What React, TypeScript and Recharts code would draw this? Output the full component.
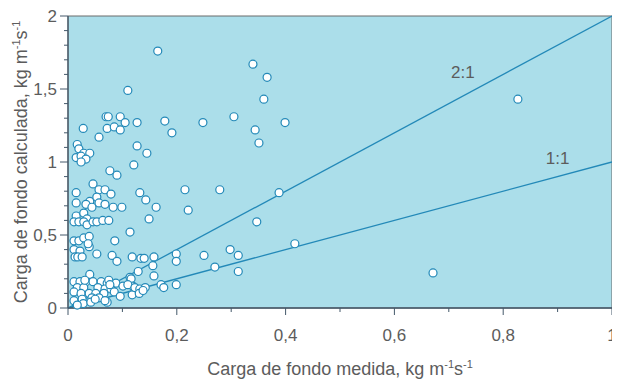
import { ScatterChart, Scatter, XAxis, YAxis, ReferenceArea, ReferenceLine, ReferenceDot } from 'recharts'

// carga de fondo medida (x) y calculada (y), kg m-1 s-1
const medida = [
  0.165, 0.34, 0.366, 0.36, 0.827, 0.11, 0.07, 0.074, 0.096, 0.305,
  0.105, 0.127, 0.178, 0.248, 0.399, 0.028, 0.072, 0.085, 0.096, 0.191,
  0.344, 0.057, 0.351, 0.127, 0.017, 0.02, 0.029, 0.04, 0.145, 0.015,
  0.024, 0.033, 0.024, 0.121, 0.077, 0.09, 0.046, 0.057, 0.068, 0.079,
  0.015, 0.132, 0.215, 0.279, 0.388, 0.015, 0.04, 0.053, 0.057, 0.033,
  0.044, 0.068, 0.083, 0.099, 0.143, 0.162, 0.221, 0.015, 0.029, 0.035,
  0.011, 0.02, 0.029, 0.035, 0.046, 0.053, 0.064, 0.075, 0.149, 0.347,
  0.114, 0.011, 0.02, 0.029, 0.039, 0.086, 0.039, 0.011, 0.022, 0.013,
  0.018, 0.026, 0.053, 0.081, 0.09, 0.118, 0.134, 0.14, 0.158, 0.199,
  0.199, 0.156, 0.25, 0.298, 0.313, 0.27, 0.313, 0.417, 0.671, 0.129,
  0.158, 0.114, 0.04, 0.011, 0.022, 0.033, 0.046, 0.061, 0.072, 0.088,
  0.101, 0.116, 0.119, 0.017, 0.029, 0.055, 0.068, 0.079, 0.011, 0.024,
  0.039, 0.051, 0.066, 0.085, 0.096, 0.118, 0.011, 0.026, 0.044, 0.057,
  0.072, 0.028, 0.017, 0.042, 0.031, 0.075, 0.11, 0.123, 0.132, 0.142,
  0.171, 0.176, 0.199, 0.131, 0.138, 0.05, 0.068, 0.077, 0.037,
]
const calculada = [
  1.76, 1.67, 1.58, 1.43, 1.43, 1.49, 1.31, 1.31, 1.31, 1.31,
  1.27, 1.27, 1.28, 1.27, 1.27, 1.23, 1.23, 1.24, 1.22, 1.2,
  1.22, 1.17, 1.13, 1.11, 1.12, 1.09, 1.06, 1.06, 1.06, 1.03,
  1.04, 1.02, 1.0, 0.98, 0.94, 0.91, 0.85, 0.81, 0.81, 0.78,
  0.79, 0.79, 0.81, 0.81, 0.79, 0.72, 0.73, 0.76, 0.72, 0.71,
  0.69, 0.71, 0.69, 0.69, 0.74, 0.69, 0.67, 0.63, 0.65, 0.61,
  0.59, 0.59, 0.59, 0.57, 0.59, 0.59, 0.6, 0.6, 0.61, 0.59,
  0.52, 0.46, 0.46, 0.48, 0.49, 0.46, 0.42, 0.4, 0.39, 0.35,
  0.35, 0.35, 0.37, 0.36, 0.32, 0.35, 0.34, 0.34, 0.35, 0.37,
  0.32, 0.29, 0.36, 0.4, 0.36, 0.28, 0.25, 0.44, 0.24, 0.25,
  0.22, 0.21, 0.23, 0.18, 0.18, 0.18, 0.18, 0.18, 0.17, 0.17,
  0.15, 0.2, 0.15, 0.14, 0.14, 0.14, 0.13, 0.13, 0.11, 0.1,
  0.1, 0.1, 0.1, 0.11, 0.08, 0.09, 0.05, 0.06, 0.07, 0.07,
  0.04, 0.03, 0.02, 0.04, 0.19, 0.19, 0.16, 0.14, 0.13, 0.14,
  0.16, 0.14, 0.16, 0.1, 0.12, 0.06, 0.05, 0.16, 0.44,
]
const puntos = medida.map((x, i) => ({ x, y: calculada[i] }))

const xTicks = [0, 0.1, 0.2, 0.3, 0.4, 0.5, 0.6, 0.7, 0.8, 0.9, 1]
const xMajor = [0, 0.2, 0.4, 0.6, 0.8, 1]
const yTicks = [0, 0.1, 0.2, 0.3, 0.4, 0.5, 0.6, 0.7, 0.8, 0.9, 1, 1.1, 1.2, 1.3, 1.4, 1.5, 1.6, 1.7, 1.8, 1.9, 2]
const yMajor = [0, 0.5, 1, 1.5, 2]

const linea1a1 = [{ x: 0, y: 0 }, { x: 1, y: 1 }]
const linea2a1 = [{ x: 0, y: 0 }, { x: 1, y: 2 }]
const etiquetas = [
  { x: 0.726, y: 1.62, texto: '2:1' },
  { x: 0.9, y: 1.03, texto: '1:1' },
]

const fondo = '#abdeea'
const azul = '#2389b8'
const eje = '#44596a'
const gris = '#5c5c5c'
const fuente = '"Liberation Sans", Arial, sans-serif'

const esMayor = (v: number, lista: number[]) => lista.some((m) => Math.abs(m - v) < 1e-6)
const fmt = (v: number) => String(v).replace('.', ',')

function XTick(props: any) {
  const { x, y, payload } = props
  const mayor = esMayor(payload.value, xMajor)
  return (
    <g>
      <line x1={x} x2={x} y1={y} y2={y + (mayor ? 7 : 4)} stroke={eje} />
      {mayor && (
        <text x={x} y={y + 27} dy="0.35em" textAnchor="middle" fill={gris} fontSize={17} fontFamily={fuente}>
          {fmt(payload.value)}
        </text>
      )}
    </g>
  )
}

function YTick(props: any) {
  const { x, y, payload } = props
  const mayor = esMayor(payload.value, yMajor)
  return (
    <g>
      <line x1={x - (mayor ? 8 : 4)} x2={x} y1={y} y2={y} stroke={eje} />
      {mayor && (
        <text x={x - 11} y={y} dy="0.35em" textAnchor="end" fill={gris} fontSize={17} fontFamily={fuente}>
          {fmt(payload.value)}
        </text>
      )}
    </g>
  )
}

function XTitle(props: any) {
  const { viewBox } = props
  const cx = viewBox.x + viewBox.width / 2
  return (
    <text x={cx} y={viewBox.y + 67} textAnchor="middle" fill={gris} fontSize={18} fontFamily={fuente}>
      Carga de fondo medida, kg m
      <tspan dy={-7} fontSize={11}>-1</tspan>
      <tspan dy={7}>s</tspan>
      <tspan dy={-7} fontSize={11}>-1</tspan>
    </text>
  )
}

function YTitle(props: any) {
  const { viewBox } = props
  const cy = viewBox.y + viewBox.height / 2
  const cx = 13
  return (
    <text
      x={cx}
      y={cy}
      transform={`rotate(-90 ${cx} ${cy})`}
      dy="0.35em"
      textAnchor="middle"
      fill={gris}
      fontSize={18}
      fontFamily={fuente}
    >
      Carga de fondo calculada, kg m
      <tspan dy={-7} fontSize={11}>-1</tspan>
      <tspan dy={7}>s</tspan>
      <tspan dy={-7} fontSize={11}>-1</tspan>
    </text>
  )
}

const Punto = (props: any) => (
  <circle cx={props.cx} cy={props.cy} r={4} fill="#ffffff" stroke={azul} strokeWidth={1.2} />
)

export default function App() {
  return (
    <ScatterChart width={612} height={372} margin={{ top: 8, right: 8, left: 0, bottom: 0 }}>
      <ReferenceArea x1={0} x2={1} y1={0} y2={2} fill={fondo} fillOpacity={1} stroke="#6b6b6b" strokeWidth={1} />
      <XAxis
        type="number"
        dataKey="x"
        domain={[0, 1]}
        ticks={xTicks}
        interval={0}
        height={72}
        tickSize={0}
        tickMargin={0}
        tickLine={false}
        tick={<XTick />}
        axisLine={{ stroke: eje, strokeWidth: 1.3 }}
        label={<XTitle />}
      />
      <YAxis
        type="number"
        dataKey="y"
        domain={[0, 2]}
        ticks={yTicks}
        interval={0}
        width={60}
        tickSize={0}
        tickMargin={0}
        tickLine={false}
        tick={<YTick />}
        axisLine={{ stroke: eje, strokeWidth: 1.3 }}
        label={<YTitle />}
      />
      <ReferenceLine segment={linea2a1} stroke={azul} strokeWidth={1.3} />
      <ReferenceLine segment={linea1a1} stroke={azul} strokeWidth={1.3} />
      {etiquetas.map((e) => (
        <ReferenceDot
          key={e.texto}
          x={e.x}
          y={e.y}
          r={0}
          fill="none"
          stroke="none"
          label={{ value: e.texto, position: 'center', fill: gris, fontSize: 17, fontFamily: fuente }}
        />
      ))}
      <Scatter data={puntos} shape={<Punto />} isAnimationActive={false} />
    </ScatterChart>
  )
}
